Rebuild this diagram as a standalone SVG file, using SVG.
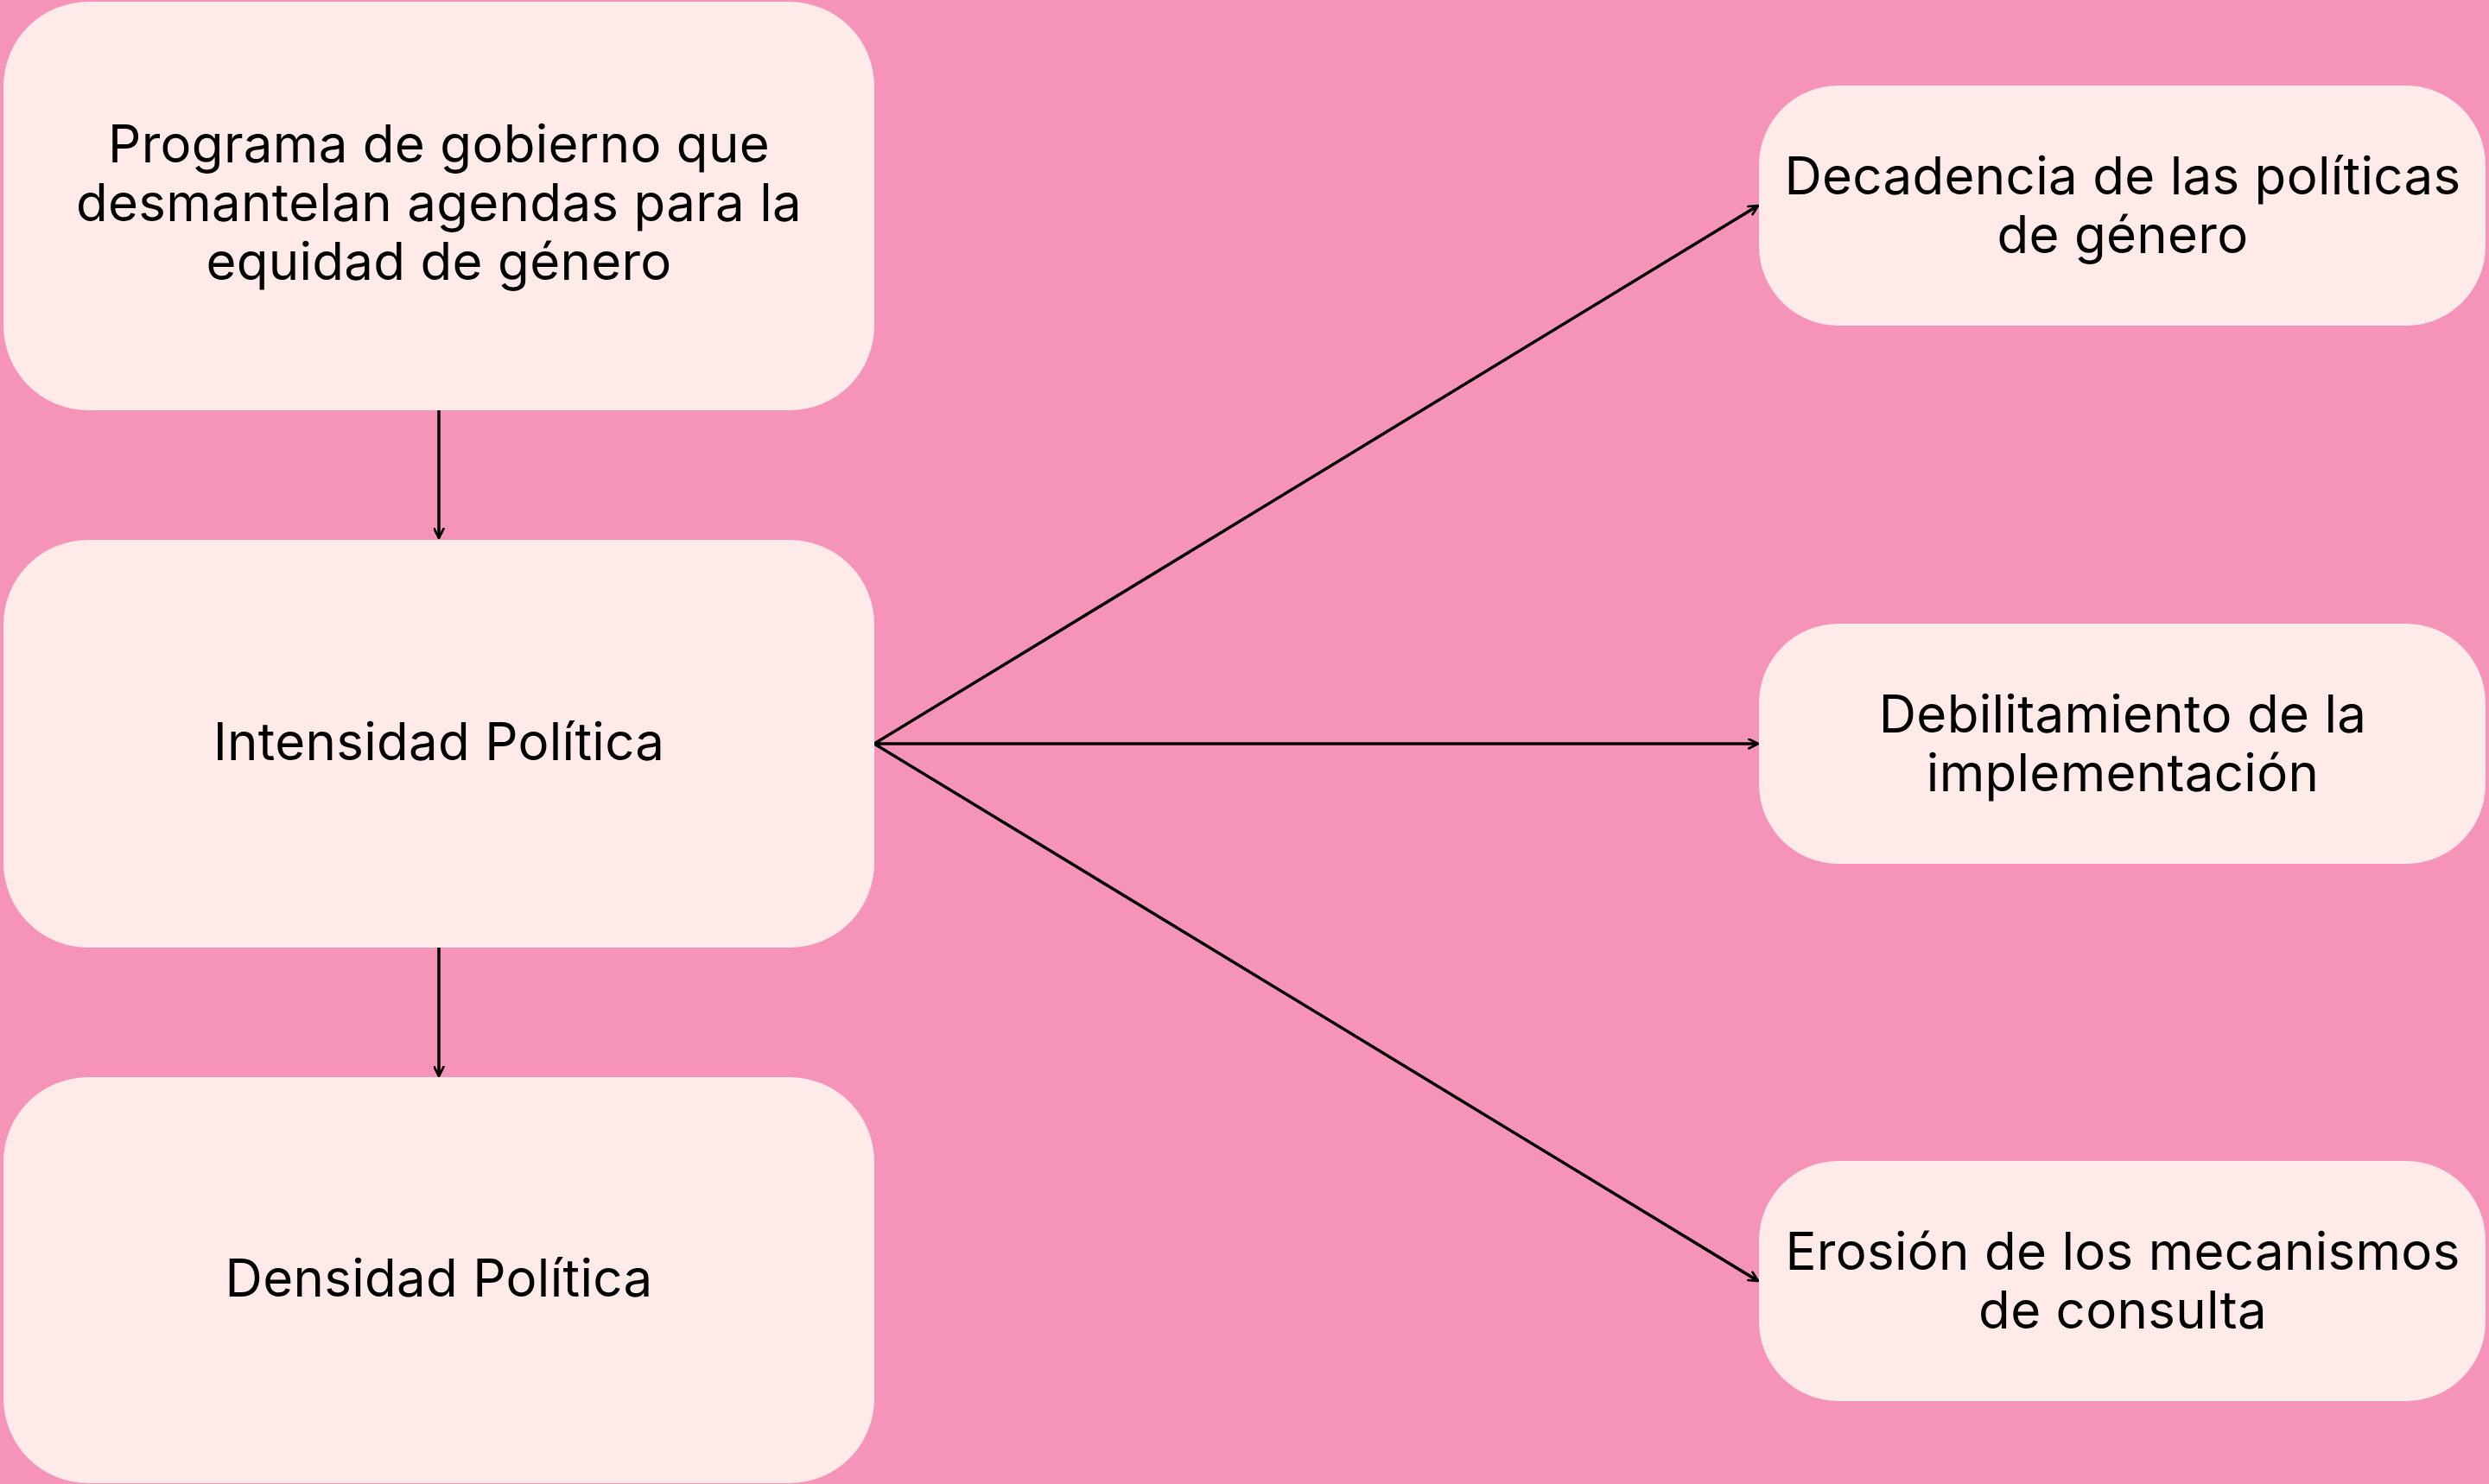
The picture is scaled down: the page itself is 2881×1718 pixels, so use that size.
<svg xmlns="http://www.w3.org/2000/svg" width="2881" height="1718" viewBox="0 0 2881 1718">
  <style>
    .box { fill: #FFEAEA; }
    .lbl { font-family: Inter, "Open Sans", "Liberation Sans", sans-serif; font-size: 60px; fill: #000; text-anchor: middle; letter-spacing: 0.3px; }
    .edge { stroke: #000; stroke-width: 3.5; fill: none; marker-end: url(#arr); }
  </style>
  <defs>
    <marker id="arr" viewBox="0 0 12 12" refX="11" refY="6" markerWidth="13" markerHeight="13" markerUnits="userSpaceOnUse" orient="auto">
      <path d="M1,1 L11,6 L1,11" fill="none" stroke="#000" stroke-width="2.5" stroke-linecap="round" stroke-linejoin="round"/>
    </marker>
  </defs>
  <rect width="2881" height="1718" fill="#F693B9"/>
  <g id="connectors">
    <line class="edge" x1="508" y1="475" x2="508" y2="623"/>
    <line class="edge" x1="508" y1="1097" x2="508" y2="1246"/>
    <line class="edge" x1="1012" y1="861" x2="2035" y2="238"/>
    <line class="edge" x1="1012" y1="861" x2="2035" y2="861"/>
    <line class="edge" x1="1012" y1="861" x2="2035" y2="1483"/>
  </g>
  <g id="node-programa">
    <rect class="box" x="4" y="2" width="1008" height="473" rx="98" ry="98"/>
    <text class="lbl"><tspan x="508" y="188">Programa de gobierno que</tspan><tspan x="508" y="256">desmantelan agendas para la</tspan><tspan x="508" y="324">equidad de género</tspan></text>
  </g>
  <g id="node-intensidad">
    <rect class="box" x="4" y="625" width="1008" height="472" rx="98" ry="98"/>
    <text class="lbl" x="508" y="880">Intensidad Política</text>
  </g>
  <g id="node-densidad">
    <rect class="box" x="4" y="1247" width="1008" height="470" rx="98" ry="98"/>
    <text class="lbl" x="508" y="1501">Densidad Política</text>
  </g>
  <g id="node-decadencia">
    <rect class="box" x="2036" y="99" width="841" height="278" rx="92" ry="92"/>
    <text class="lbl"><tspan x="2457" y="225">Decadencia de las políticas</tspan><tspan x="2457" y="293">de género</tspan></text>
  </g>
  <g id="node-debilitamiento">
    <rect class="box" x="2036" y="722" width="841" height="278" rx="92" ry="92"/>
    <text class="lbl"><tspan x="2457" y="848">Debilitamiento de la</tspan><tspan x="2457" y="916">implementación</tspan></text>
  </g>
  <g id="node-erosion">
    <rect class="box" x="2036" y="1344" width="841" height="278" rx="92" ry="92"/>
    <text class="lbl"><tspan x="2457" y="1470">Erosión de los mecanismos</tspan><tspan x="2457" y="1538">de consulta</tspan></text>
  </g>
</svg>
